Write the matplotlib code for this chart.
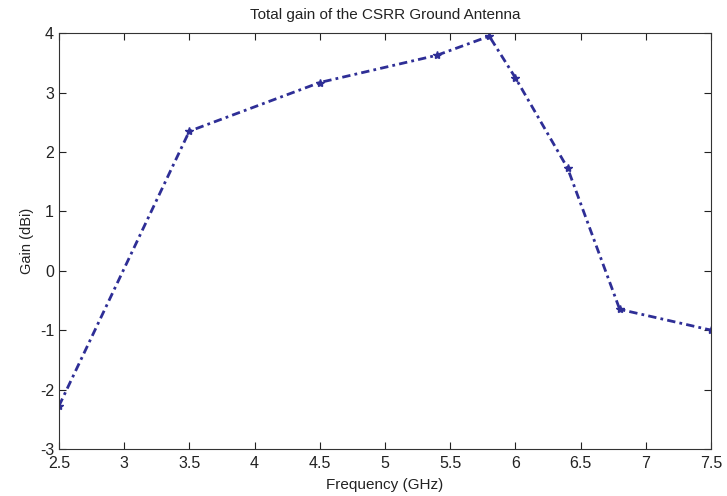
import matplotlib
matplotlib.use("Agg")
import matplotlib.pyplot as plt

plt.rcParams['font.family'] = ['Liberation Sans', 'DejaVu Sans']
plt.rcParams['axes.unicode_minus'] = False

# Données
freq = [2.5, 3.5, 4.5, 5.4, 5.8, 6.0, 6.4, 6.8, 7.5]
gain = [-2.28, 2.35, 3.17, 3.63, 3.95, 3.25, 1.73, -0.65, -1.0]
xticks = [2.5, 3, 3.5, 4, 4.5, 5, 5.5, 6, 6.5, 7, 7.5]
xlabels = ['2.5', '3', '3.5', '4', '4.5', '5', '5.5', '6', '6.5', '7', '7.5']
yticks = [-3, -2, -1, 0, 1, 2, 3, 4]

fig = plt.figure(figsize=(7.27, 4.96), dpi=100)
ax = fig.add_axes([0.081, 0.095, 0.897, 0.838])

ax.plot(freq, gain, linestyle=(0, (3, 1.5, 1, 1.5)), color='#2e2e96',
        linewidth=2, marker='*', markersize=6)

ax.set_xlim(2.5, 7.5)
ax.set_ylim(-3, 4)
ax.set_xticks(xticks)
ax.set_xticklabels(xlabels)
ax.set_yticks(yticks)
ax.tick_params(direction='in', top=True, right=True, length=5,
               labelsize=11.5, colors='#222222')
ax.tick_params(axis='x', pad=5)
for s in ax.spines.values():
    s.set_color('#333333')

ax.set_title('Total gain of the CSRR Ground Antenna', fontsize=11, color='#222222', pad=10)
ax.set_xlabel('Frequency (GHz)', fontsize=11, color='#222222', labelpad=5)
ax.set_ylabel('Gain (dBi)', fontsize=10.5, color='#222222', labelpad=4)

fig.savefig('out.png', dpi=100)
